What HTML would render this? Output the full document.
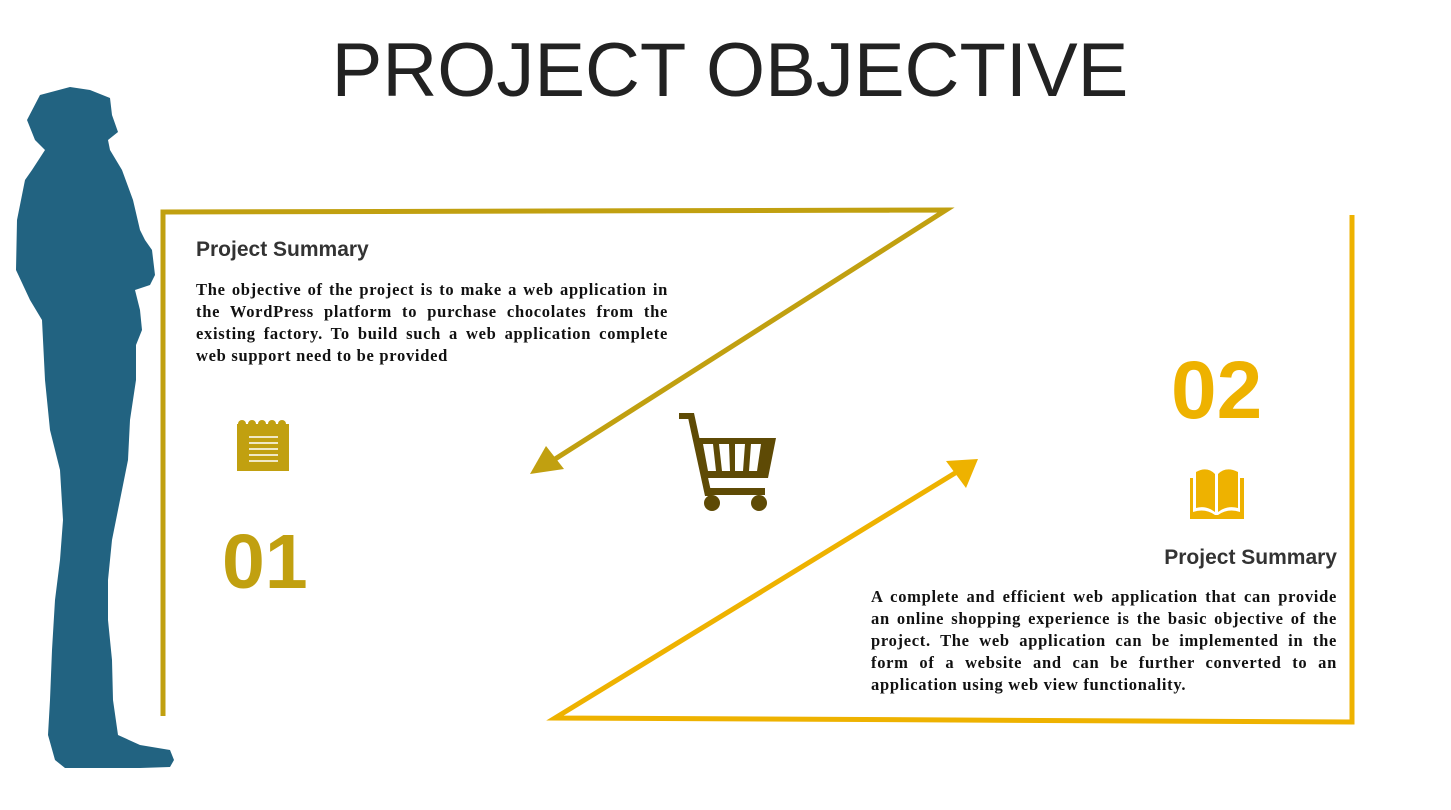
<!DOCTYPE html>
<html><head><meta charset="utf-8"><style>
body{margin:0;width:1451px;height:810px;background:#fff;position:relative;overflow:hidden;font-family:"Liberation Sans",sans-serif}
.t{position:absolute;left:0;width:1460px;text-align:center;top:26px;font-size:76px;color:#222;line-height:90px}
.h{position:absolute;font-weight:bold;font-size:21px;color:#333}
.p{position:absolute;font-family:"Liberation Serif",serif;font-weight:bold;font-size:16.5px;letter-spacing:0.7px;line-height:22px;color:#111}
.p div{text-align:justify;text-align-last:justify;white-space:nowrap}
.p div.l{text-align-last:left}
.n{position:absolute;font-weight:bold;font-size:77px;line-height:84px}
</style></head><body>
<svg width="1451" height="810" style="position:absolute;left:0;top:0">
<path fill="#226381" d="M27,120 L40,95 L70,87 L90,90 L110,98 L112,115 L118,132 L108,140 L110,150 L116,160 L122,170 L133,200 L140,230 L145,240 L152,250 L155,275 L150,285 L135,290 L140,310 L142,330 L136,345 L136,380 L130,420 L128,460 L118,510 L112,540 L108,580 L108,620 L112,660 L113,700 L118,735 L140,745 L170,750 L174,760 L170,767 L140,768 L65,768 L55,760 L48,735 L50,700 L52,650 L55,600 L60,560 L63,520 L60,470 L50,430 L45,380 L42,320 L30,300 L16,270 L17,220 L25,180 L32,170 L45,150 L35,140 Z"/>
<g stroke="#C1A010" stroke-width="5" fill="none">
<polyline points="163,716 163,212 946,210 552,461"/>
</g>
<polygon fill="#C1A010" points="530,474 546,446 564,469"/>
<g stroke="#EEB200" stroke-width="5" fill="none">
<polyline points="1352,215 1352,722 555,718 960,470"/>
</g>
<polygon fill="#EEB200" points="978,459 946,461 966,488"/>
<g fill="#5E4A05">
<rect x="679" y="413" width="14" height="6"/>
<polygon points="687,413 694,413 712,496 705,496"/>
<path d="M693,438 L776,438 L768,478 L703,478 Z M703,444 L708,471 L716,471 L713,444 Z M719,444 L722,471 L730,471 L729,444 Z M735,444 L735,471 L743,471 L745,444 Z M751,444 L749,471 L757,471 L761,444 Z" fill-rule="evenodd"/>
<rect x="705" y="488" width="60" height="7"/>
<circle cx="712" cy="503" r="8"/><circle cx="759" cy="503" r="8"/>
</g>
<g>
<rect x="237" y="424" width="52" height="47" fill="#C1A010"/>
<g fill="#C1A010"><circle cx="242" cy="424" r="4"/><circle cx="252" cy="424" r="4"/><circle cx="262" cy="424" r="4"/><circle cx="272" cy="424" r="4"/><circle cx="282" cy="424" r="4"/></g>
<g stroke="#fff" stroke-width="1.5"><line x1="249" y1="437" x2="278" y2="437"/><line x1="249" y1="443" x2="278" y2="443"/><line x1="249" y1="449" x2="278" y2="449"/><line x1="249" y1="455" x2="278" y2="455"/><line x1="249" y1="461" x2="278" y2="461"/></g>
</g>
<g fill="#EEB200">
<path d="M1190,478 L1193,478 L1193,512 Q1205,508 1215,515 L1218,515 Q1228,508 1240,512 L1240,478 L1244,478 L1244,519 L1190,519 Z"/>
<path d="M1196,472 Q1207,466 1215,474 L1215,512 Q1206,505 1196,508 Z"/>
<path d="M1218,474 Q1226,466 1238,472 L1238,508 Q1227,505 1218,512 Z"/>
</g>
</svg>
<div class="t">PROJECT OBJECTIVE</div>
<div class="h" style="left:196px;top:238px">Project Summary</div>
<div class="p" style="left:196px;top:279px;width:472px">
<div>The objective of the project is to make a web application in</div>
<div>the WordPress platform to purchase chocolates from the</div>
<div>existing factory. To build such a web application complete</div>
<div class="l">web support need to be provided</div>
</div>
<div class="n" style="left:222px;top:520px;color:#C1A010">01</div>
<div class="n" style="left:1171px;top:349px;color:#EEB200;font-size:82px">02</div>
<div class="h" style="left:1060px;width:277px;text-align:right;top:546px">Project Summary</div>
<div class="p" style="left:871px;top:586px;width:466px">
<div>A complete and efficient web application that can provide</div>
<div>an online shopping experience is the basic objective of the</div>
<div>project. The web application can be implemented in the</div>
<div>form of a website and can be further converted to an</div>
<div class="l">application using web view functionality.</div>
</div>
</body></html>
